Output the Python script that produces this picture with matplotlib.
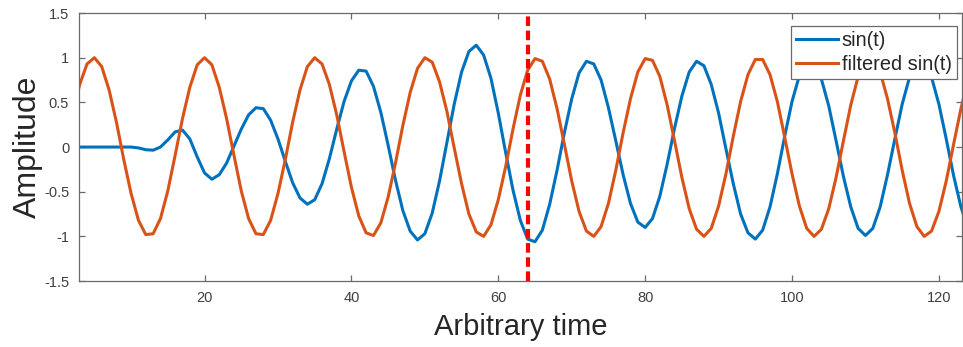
import numpy as np
import matplotlib
matplotlib.use("Agg")
import matplotlib.pyplot as plt

plt.rcParams["font.family"] = ["Liberation Sans", "DejaVu Sans"]

# sample index
t = np.arange(1, 125)

# raw signal (ramps up from zero)
sin_t = [
    0.00, 0.00, 0.00, 0.00, 0.00, 0.00, 0.00, 0.00, 0.00, 0.00,
    -0.01, -0.03, -0.035, 0.00, 0.08, 0.17, 0.19, 0.09, -0.11, -0.29,
    -0.36, -0.31, -0.18, 0.01, 0.20, 0.36, 0.44, 0.43, 0.30, 0.09,
    -0.16, -0.40, -0.57, -0.64, -0.59, -0.41, -0.13, 0.20, 0.51, 0.74,
    0.86, 0.85, 0.68, 0.39, 0.02, -0.37, -0.71, -0.94, -1.04, -0.97,
    -0.74, -0.38, 0.05, 0.48, 0.84, 1.07, 1.14, 1.03, 0.77, 0.38,
    -0.06, -0.48, -0.82, -1.03, -1.06, -0.93, -0.64, -0.26, 0.16, 0.54,
    0.83, 0.96, 0.93, 0.75, 0.44, 0.07, -0.31, -0.63, -0.84, -0.90,
    -0.80, -0.55, -0.19, 0.21, 0.57, 0.84, 0.96, 0.91, 0.70, 0.38,
    -0.02, -0.41, -0.75, -0.96, -1.03, -0.93, -0.67, -0.30, 0.12, 0.51,
    0.80, 0.96, 0.94, 0.76, 0.46, 0.07, -0.33, -0.67, -0.91, -0.99,
    -0.91, -0.67, -0.31, 0.09, 0.48, 0.78, 0.95, 0.95, 0.78, 0.48,
    0.09, -0.32, -0.67, -0.92,
]

# filtered signal
filtered_sin_t = [
    -0.05, 0.36, 0.70, 0.93, 1.00, 0.90, 0.64, 0.28, -0.14, -0.52,
    -0.82, -0.98, -0.97, -0.80, -0.49, -0.09, 0.32, 0.67, 0.92, 1.00,
    0.92, 0.67, 0.32, -0.09, -0.49, -0.80, -0.97, -0.98, -0.82, -0.52,
    -0.14, 0.28, 0.64, 0.90, 1.00, 0.93, 0.70, 0.36, -0.05, -0.45,
    -0.77, -0.96, -0.99, -0.85, -0.56, -0.18, 0.24, 0.61, 0.88, 1.00,
    0.95, 0.73, 0.40, -0.01, -0.41, -0.75, -0.95, -1.00, -0.87, -0.59,
    -0.22, 0.20, 0.58, 0.86, 0.99, 0.96, 0.76, 0.43, 0.03, -0.38,
    -0.72, -0.94, -1.00, -0.89, -0.63, -0.26, 0.16, 0.54, 0.84, 0.99,
    0.97, 0.79, 0.47, 0.07, -0.34, -0.69, -0.92, -1.00, -0.91, -0.66,
    -0.30, 0.12, 0.51, 0.81, 0.98, 0.98, 0.81, 0.51, 0.11, -0.30,
    -0.66, -0.91, -1.00, -0.92, -0.69, -0.34, 0.07, 0.47, 0.79, 0.97,
    0.99, 0.84, 0.54, 0.16, -0.26, -0.63, -0.89, -1.00, -0.94, -0.72,
    -0.38, 0.03, 0.43, 0.76,
]

marker_time = 64
x_ticks = [20, 40, 60, 80, 100, 120]
y_ticks = [-1.5, -1, -0.5, 0, 0.5, 1, 1.5]
y_tick_labels = ["-1.5", "-1", "-0.5", "0", "0.5", "1", "1.5"]

fig = plt.figure(figsize=(9.63, 3.47), dpi=100)
ax = fig.add_axes([0.082, 0.190, 0.917, 0.7725])

ax.plot(t, sin_t, color="#0072BD", lw=2.2, label="sin(t)")
ax.plot(t, filtered_sin_t, color="#D95319", lw=2.2, label="filtered sin(t)")
ax.plot([marker_time, marker_time], [-1.5, 1.5], color="#FF0000", lw=3,
        dashes=(2.3, 1.1), zorder=5)

ax.set_xlim(2.9, 123.15)
ax.set_ylim(-1.5, 1.5)
ax.set_xticks(x_ticks)
ax.set_yticks(y_ticks)
ax.set_yticklabels(y_tick_labels)

spine_color = "#6a6a6a"
for s in ax.spines.values():
    s.set_color(spine_color)
    s.set_linewidth(0.9)
ax.tick_params(direction="in", length=4, width=0.9, color=spine_color,
               labelcolor="#404040", labelsize=10.5,
               top=True, right=True, pad=7)

ax.set_xlabel("Arbitrary time", fontsize=21, color="#262626")
ax.set_ylabel("Amplitude", fontsize=23, color="#262626")
ax.xaxis.set_label_coords(0.5, -0.12)
ax.yaxis.set_label_coords(-0.041, 0.5)

leg = ax.legend(loc="upper right", bbox_to_anchor=(0.994, 0.951),
                borderaxespad=0, fontsize=14.4, fancybox=False,
                framealpha=1, edgecolor=spine_color, handlelength=2.1,
                handletextpad=0.2, labelspacing=0.25, borderpad=0.25)
leg.get_frame().set_linewidth(0.9)
for txt in leg.get_texts():
    txt.set_color("#262626")

fig.savefig("out.png", dpi=100)
